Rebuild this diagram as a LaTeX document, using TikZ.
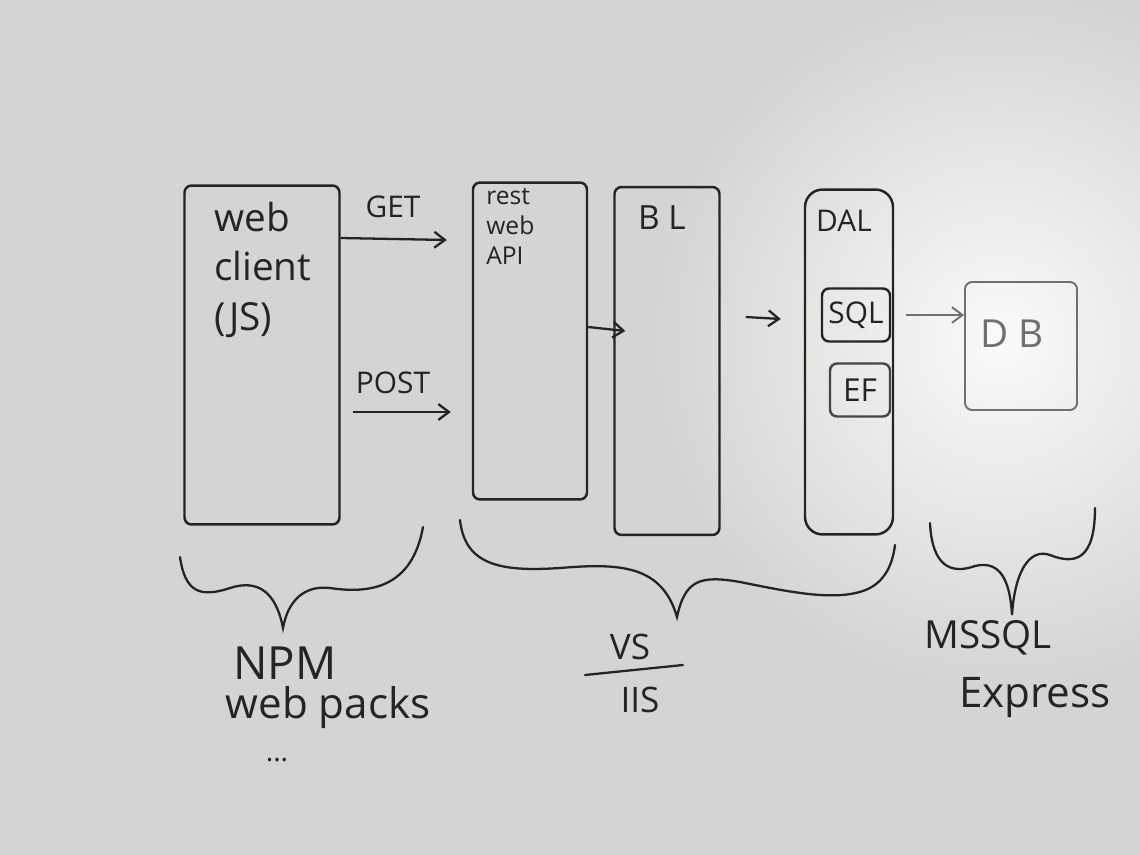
\documentclass[tikz,border=0pt]{standalone}
\usepackage{fontspec}
\setmainfont{Open Sans}
\usetikzlibrary{arrows.meta,calc}
\definecolor{board}{RGB}{212,212,210}
\definecolor{ink}{RGB}{36,36,36}
\definecolor{faded}{RGB}{112,112,112}
\begin{document}
\begin{tikzpicture}[x=0.02cm,y=-0.02cm,
  box/.style={draw=ink, line width=1.4pt, rounded corners=4pt, inner sep=0pt},
  lbl/.style={text=ink, inner sep=0pt, align=left},
  arr/.style={draw=ink, line width=1.3pt, -{Straight Barb[length=6pt,width=9pt]}},
  bracepath/.style={draw=ink, line width=1.3pt, line cap=round}]
% board
\fill[board] (0,0) rectangle (1140,855);
\useasboundingbox (0,0) rectangle (1140,855);
\shade[inner color=white!88!board, outer color=board] (1000,340) circle (7cm);
% boxes
\node[box, minimum width=3.1cm, minimum height=6.78cm] (web) at (262,355) {};
\node[box, minimum width=2.28cm, minimum height=6.34cm] (rest) at (530,341) {};
\node[box, minimum width=2.1cm, minimum height=6.96cm] (bl) at (667,361) {};
\node[box, minimum width=1.76cm, minimum height=6.9cm, rounded corners=10pt] (dal) at (849,362) {};
\node[box, minimum width=1.36cm, minimum height=1.06cm] (sql) at (856,315) {};
\node[box, draw=ink!85, minimum width=1.2cm, minimum height=1.06cm] (ef) at (860,390) {};
\node[box, draw=faded, line width=1.1pt, minimum width=2.24cm, minimum height=2.56cm] (db) at (1021,346) {};
% box texts
\node[lbl, anchor=north west, font=\fontsize{22}{28}\selectfont] (webt) at (214,202) {web\\client\\(JS)};
\node[lbl, anchor=north west, font=\fontsize{14}{17}\selectfont] (restt) at (486,188) {rest\\web\\API};
\node[lbl, font=\fontsize{19}{22}\selectfont] (blt) at (662,218) {B L};
\node[lbl, font=\fontsize{17}{20}\selectfont] (dalt) at (844,221) {DAL};
\node[lbl, font=\fontsize{17}{20}\selectfont] (sqlt) at (sql) {SQL};
\node[lbl, font=\fontsize{18}{20}\selectfont] (eft) at (ef) {EF};
\node[lbl, text=faded, font=\fontsize{22}{26}\selectfont] (dbt) at (1012,334) {D B};
% arrow labels
\node[lbl, font=\fontsize{17}{20}\selectfont] (get) at (393,207) {GET};
\node[lbl, font=\fontsize{17}{20}\selectfont] (post) at (393,383) {POST};
% connectors
\draw[arr] (web.east |- 0,238) -- ([xshift=-0.5cm]rest.west |- 0,240);
\draw[arr] ([xshift=0.24cm]web.east |- 0,412) -- ([xshift=-0.42cm]rest.west |- 0,412);
\draw[arr] (rest.east |- 0,327) -- ([xshift=0.24cm]bl.west |- 0,331);
\draw[arr] ([xshift=0.5cm]bl.east |- 0,317) -- ([xshift=-0.46cm]dal.west |- 0,319);
\draw[arr, draw=faded, line width=1.1pt] ([xshift=0.3cm]sql.east) -- (db.west |- sql.east);
% braces
\coordinate (b1a) at (180,557);
\coordinate (b1t) at (283,628);
\coordinate (b1b) at (423,527);
\draw[bracepath] (b1a) .. controls (185,592) and (200,598) .. (230,588)
  .. controls (258,579) and (276,592) .. (b1t)
  .. controls (288,600) and (305,585) .. (330,588)
  .. controls (370,594) and (412,588) .. (b1b);
\coordinate (b2a) at (460,520);
\coordinate (b2t) at (677,617);
\coordinate (b2b) at (895,545);
\draw[bracepath] (b2a) .. controls (465,565) and (500,572) .. (560,568)
  .. controls (620,563) and (662,565) .. (b2t)
  .. controls (685,580) and (700,575) .. (740,582)
  .. controls (790,592) and (840,603) .. (870,588)
  .. controls (888,578) and (893,560) .. (b2b);
\coordinate (b3a) at (930,523);
\coordinate (b3t) at (1012,615);
\coordinate (b3b) at (1095,508);
\draw[bracepath] (b3a) .. controls (932,565) and (950,575) .. (975,566)
  .. controls (1000,560) and (1010,580) .. (b3t)
  .. controls (1015,570) and (1030,548) .. (1050,555)
  .. controls (1075,565) and (1095,560) .. (b3b);
% bottom labels
\node[lbl, font=\fontsize{26}{30}\selectfont] (npm) at (285,663) {NPM};
\node[lbl, font=\fontsize{24}{28}\selectfont] (wp) at (328,708) {web packs};
\node[lbl, font=\fontsize{16}{18}\selectfont] (dots) at (277,760) {...};
\node[lbl, font=\fontsize{20}{24}\selectfont] (vs) at (630,647) {VS};
\node[lbl, font=\fontsize{20}{24}\selectfont] (iis) at (640,700) {IIS};
\coordinate (fracl) at (585,675);
\coordinate (fracr) at (683,665);
\draw[bracepath] (fracl) -- (fracr);
\node[lbl, font=\fontsize{22}{26}\selectfont] (mssql) at (988,638) {MSSQL};
\node[lbl, font=\fontsize{24}{28}\selectfont] (express) at (1035,698) {Express};
\end{tikzpicture}
\end{document}
